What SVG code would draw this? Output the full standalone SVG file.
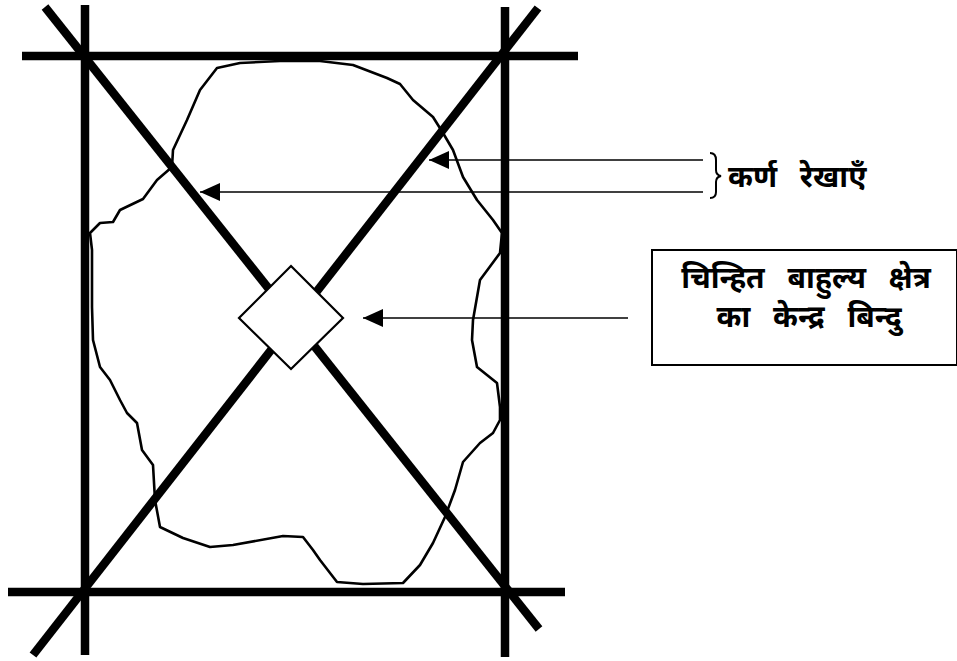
<svg xmlns="http://www.w3.org/2000/svg" width="957" height="661" viewBox="0 0 957 661">
<style>
.thick{stroke:#000;stroke-width:8.5;fill:none;stroke-linecap:butt}
.thin{stroke:#000;stroke-width:1.6;fill:none}
.blob{stroke:#000;stroke-width:2.6;fill:none;stroke-linejoin:round}
.lbl{font-family:"Noto Sans","Noto Sans Devanagari","Lohit Devanagari","Mangal",sans-serif;font-size:30px;font-weight:bold;fill:#000;word-spacing:15px}
</style>
<defs>
<marker id="ah" markerWidth="20" markerHeight="18" refX="20" refY="9" orient="auto" markerUnits="userSpaceOnUse">
<path d="M0,0 L20,9 L0,18 Z" fill="#000"/>
</marker>
</defs>
<g id="frame">
<line class="thick" x1="85" y1="5" x2="85" y2="655"/>
<line class="thick" x1="505" y1="7" x2="505" y2="657"/>
<line class="thick" x1="22" y1="56" x2="578" y2="56"/>
<line class="thick" x1="8" y1="592" x2="565" y2="592"/>
<line class="thick" x1="45" y1="7" x2="539" y2="629"/>
<line class="thick" x1="538" y1="8" x2="33" y2="655"/>
</g>
<g id="region">
<path class="blob" d="M217,68 L240,63 L280,61 L320,61 L353,65 L387,78 L400,84 L413,100 L433,117 L443,133 L453,150 L463,177 L477,200 L493,220 L502,233 L500,253 L480,280 L473,320 L472,340 L477,367 L497,383 L500,407 L500,420 L493,433 L480,443 L463,462 L455,490 L445,517 L433,543 L420,565 L403,583 L363,584 L337,582 L320,560 L313,550 L303,537 L283,536 L233,545 L210,547 L183,538 L160,527 L155,500 L153,465 L142,450 L137,423 L127,413 L120,400 L110,380 L100,367 L93,340 L92,307 L92,250 L90,233 L100,223 L113,222 L120,210 L143,199 L157,180 L172,167 L173,150 L187,120 L200,90 Z"/>
</g>
<g id="center">
<path d="M291,266 L343,318 L291,369 L239,318 Z" fill="#fff" stroke="#000" stroke-width="2.2"/>
</g>
<g id="connectors">
<line class="thin" x1="703" y1="160" x2="429" y2="160" marker-end="url(#ah)"/>
<line class="thin" x1="703" y1="192" x2="200" y2="192" marker-end="url(#ah)"/>
<line class="thin" x1="628" y1="318" x2="363" y2="318" marker-end="url(#ah)"/>
<path d="M710,153 Q716,153 716,160 L716,170 Q716,175 721,176 Q716,177 716,182 L716,192 Q716,198 710,198" fill="none" stroke="#000" stroke-width="2"/>
</g>
<g id="label-diagonals">
<text class="lbl" x="728" y="187">कर्ण रेखाएँ</text>
</g>
<g id="label-center">
<rect x="652" y="250" width="305" height="115" fill="none" stroke="#000" stroke-width="2"/>
<text class="lbl" x="806" y="288" text-anchor="middle">चिन्हित बाहुल्य क्षेत्र</text>
<text class="lbl" x="809" y="327" text-anchor="middle">का केन्द्र बिन्दु</text>
</g>
</svg>
